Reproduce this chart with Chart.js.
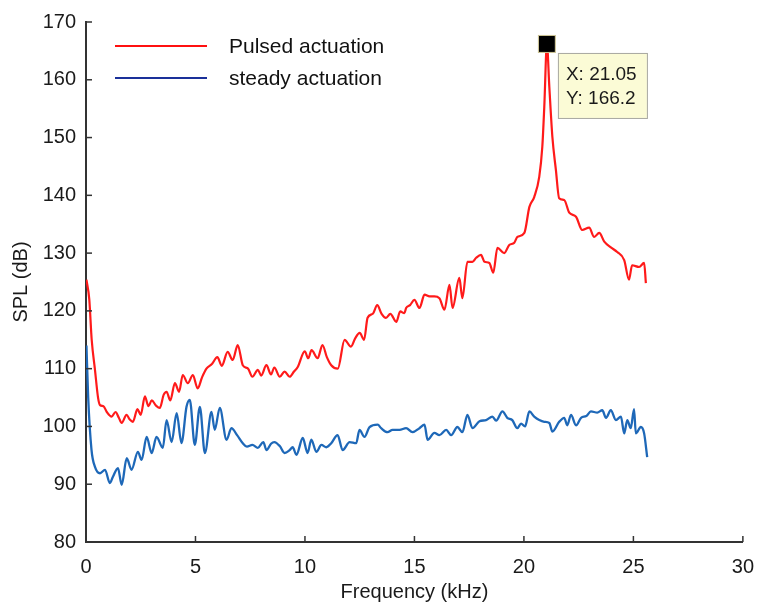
<!DOCTYPE html>
<html><head><meta charset="utf-8">
<script src="https://cdn.jsdelivr.net/npm/chart.js@4"></script>
<style>html,body{margin:0;padding:0;background:#fff}#wrap{width:759px;height:604px}</style>
</head><body><div id="wrap"><canvas id="c" width="759" height="604"></canvas></div>
<script>
const seriesNames = ['Pulsed actuation', 'steady actuation'];
const xTicks = [0, 5, 10, 15, 20, 25, 30];
const yTicks = [80, 90, 100, 110, 120, 130, 140, 150, 160, 170];
const peak = { x: 21.05, y: 166.2 };

const pulsedFreq = [0.02,0.15,0.26,0.41,0.55,0.64,0.8,0.95,1.17,1.35,1.5,1.63,1.85,2.0,2.14,2.35,2.5,2.69,2.85,3.0,3.2,3.37,3.55,3.68,3.85,4.06,4.25,4.42,4.65,4.88,5.1,5.3,5.5,5.75,6.0,6.2,6.47,6.7,6.93,7.16,7.4,7.6,7.85,8.0,8.24,8.45,8.6,8.85,9.07,9.3,9.5,9.67,9.99,10.15,10.3,10.58,10.8,11.0,11.2,11.5,11.81,12.1,12.3,12.5,12.7,12.86,13.1,13.3,13.5,13.7,13.9,14.17,14.35,14.54,14.62,14.8,15.0,15.23,15.46,15.69,15.91,16.14,16.37,16.6,16.74,17.05,17.19,17.42,17.65,17.82,18.04,18.2,18.42,18.6,18.79,19.1,19.33,19.56,19.7,20.02,20.25,20.47,20.7,20.84,20.93,21.05,21.16,21.3,21.46,21.61,21.84,22.07,22.38,22.66,22.98,23.21,23.44,23.67,23.97,24.26,24.58,24.8,24.94,25.26,25.49,25.57];
const pulsedSPL = [125.4,122,115,109.8,105,103.7,103.5,102.5,101.7,102.5,101.5,100.6,102,101.2,100.8,103,102,105.2,103.5,104.5,103.6,103.2,105.5,106,104.5,107.5,106,108.9,107.5,108.9,106.6,108.5,110,110.8,112,110.5,112.9,111.5,114.1,110.6,110,108.6,109.8,108.8,110.6,109,110.2,108.6,109.5,108.6,109.5,110.3,113,111.8,113.2,111.8,114.1,112,110.6,110,115,113.8,115.3,116.2,115,118.8,119.5,121,119.5,118.8,119.5,118.1,119.9,119.6,120.5,121,121.9,120.5,122.8,122.5,122.5,122.2,120.2,124.5,120.5,125.7,122.2,128.5,128.5,129.2,129.7,128.5,128.3,126.6,130.9,130,131.4,131.8,132.8,133.5,138,139.7,143.2,148.4,155.3,166.2,158.8,150.1,144.4,139.5,139.2,137,136.3,134,134.4,132.8,133.5,132,131,130.2,128.8,125.4,127.9,127.6,128.3,124.8];

const steadyFreq = [0.02,0.1,0.25,0.41,0.64,0.87,1.09,1.23,1.46,1.63,1.86,2.08,2.37,2.54,2.77,3.0,3.22,3.51,3.68,3.91,4.14,4.36,4.59,4.74,4.97,5.2,5.43,5.73,5.88,6.11,6.42,6.64,6.9,7.16,7.35,7.6,7.85,8.1,8.24,8.45,8.6,8.85,9.07,9.3,9.44,9.61,9.9,10.12,10.29,10.52,10.75,10.98,11.2,11.49,11.72,12.04,12.34,12.49,12.72,12.95,13.32,13.48,13.77,14.0,14.32,14.62,14.91,15.23,15.46,15.6,15.91,16.14,16.45,16.68,16.96,17.19,17.42,17.65,17.97,18.27,18.56,18.73,19.02,19.24,19.47,19.7,19.87,20.05,20.25,20.47,20.7,20.93,21.16,21.3,21.61,21.84,21.98,22.15,22.38,22.61,22.85,23.06,23.35,23.58,23.75,23.97,24.2,24.43,24.58,24.72,24.88,25.03,25.11,25.34,25.49,25.63];
const steadySPL = [114,105,96,93,91.9,92.5,90.2,91.3,92.8,89.9,94.5,92.5,95.6,94.2,98.2,95.4,98.2,96.3,101.1,97.3,102.3,97.1,103.4,104.6,96.8,103.4,95.4,102.5,99.4,103.2,97.7,99.7,98.5,97.1,96.5,96.8,96.3,97.3,95.9,97,97.3,96.6,95.4,95.9,96.4,95.1,98,95.4,97.7,95.6,96.8,96.4,97.1,98.5,95.9,97.3,97.1,99.4,98.2,99.9,100.3,99.7,99,99.4,99.4,99.7,99,99.7,100.3,97.7,98.9,98.5,99.4,98.5,99.9,99,102,99.7,100.9,101.1,101.7,101,102.6,101.5,101.1,99.7,100.5,100,102.6,101.7,101.1,100.8,100.6,99.1,100.8,101.5,100.2,102,100.2,101.5,101.8,102.6,102.4,102.8,101.5,102.8,101.1,101.7,98.8,101.1,99.7,103,98.8,99.9,98.8,94.7];

const FONT = 'Liberation Sans, Arial, Helvetica, sans-serif';
const toPts = (xs, ys) => xs.map((x, i) => ({ x: x, y: ys[i] }));

const tickPlugin = {
  id: 'inTicks',
  afterDraw(chart) {
    const ctx = chart.ctx, xs = chart.scales.x, ys = chart.scales.y, a = chart.chartArea;
    ctx.save();
    ctx.strokeStyle = '#333'; ctx.lineWidth = 1.5;
    xTicks.forEach(v => { const p = xs.getPixelForValue(v); ctx.beginPath(); ctx.moveTo(p, a.bottom); ctx.lineTo(p, a.bottom - 6); ctx.stroke(); });
    yTicks.forEach(v => { const p = ys.getPixelForValue(v); ctx.beginPath(); ctx.moveTo(a.left, p); ctx.lineTo(a.left + 6, p); ctx.stroke(); });
    ctx.restore();
  }
};

const legendPlugin = {
  id: 'inLegend',
  afterDraw(chart) {
    const ctx = chart.ctx, a = chart.chartArea;
    const cols = ['#ff1010', '#1a3099'];
    ctx.save();
    ctx.font = '21px ' + FONT; ctx.textBaseline = 'middle'; ctx.fillStyle = '#111';
    seriesNames.forEach((n, i) => {
      const y = a.top + 24 + i * 32;
      ctx.strokeStyle = cols[i]; ctx.lineWidth = 2.2;
      ctx.beginPath(); ctx.moveTo(a.left + 29, y); ctx.lineTo(a.left + 121, y); ctx.stroke();
      ctx.fillText(n, a.left + 143, y + 1);
    });
    ctx.restore();
  }
};

const peakPlugin = {
  id: 'peakTip',
  afterDatasetsDraw(chart) {
    const ctx = chart.ctx;
    const px = chart.scales.x.getPixelForValue(peak.x), py = chart.scales.y.getPixelForValue(peak.y);
    ctx.save();
    ctx.fillStyle = '#000'; ctx.fillRect(px - 8, py - 8, 16, 16);
    ctx.strokeStyle = '#c8c090'; ctx.lineWidth = 1; ctx.strokeRect(px - 8.5, py - 8.5, 17, 17);
    const bx = px + 11, by = py + 9, bw = 89, bh = 65;
    ctx.fillStyle = '#fbfbd6'; ctx.fillRect(bx, by, bw, bh);
    ctx.strokeStyle = '#a8a8a0'; ctx.strokeRect(bx + 0.5, by + 0.5, bw, bh);
    ctx.fillStyle = '#1a1a1a'; ctx.font = '19px ' + FONT; ctx.textBaseline = 'middle';
    ctx.fillText('X: ' + peak.x.toFixed(2), bx + 8, by + 22);
    ctx.fillText('Y: ' + peak.y.toFixed(1), bx + 8, by + 46);
    ctx.restore();
  }
};

new Chart(document.getElementById('c'), {
  type: 'scatter',
  data: {
    datasets: [
      { label: seriesNames[0], data: toPts(pulsedFreq, pulsedSPL), showLine: true, borderColor: '#ff1a1a', borderWidth: 2.2, pointRadius: 0, cubicInterpolationMode: 'monotone' },
      { label: seriesNames[1], data: toPts(steadyFreq, steadySPL), showLine: true, borderColor: '#1e68b8', borderWidth: 2.3, pointRadius: 0, cubicInterpolationMode: 'monotone' }
    ]
  },
  options: {
    responsive: false, animation: false, devicePixelRatio: 1,
    layout: { padding: { top: 22, right: 15, left: 0, bottom: 0 } },
    plugins: { legend: { display: false }, tooltip: { enabled: false } },
    scales: {
      x: {
        type: 'linear', min: 0, max: 30,
        afterBuildTicks: s => { s.ticks = xTicks.map(v => ({ value: v })); },
        afterFit: s => { s.height = 62; },
        grid: { display: false },
        border: { display: true, color: '#333', width: 2 },
        ticks: { font: { size: 20, family: FONT }, color: '#1a1a1a', padding: 5, maxRotation: 0 },
        title: { display: true, text: 'Frequency (kHz)', font: { size: 20, family: FONT }, color: '#1a1a1a', padding: { top: 0, bottom: 0 } }
      },
      y: {
        min: 80, max: 170,
        afterBuildTicks: s => { s.ticks = yTicks.map(v => ({ value: v })); },
        afterFit: s => { s.width = 86; },
        grid: { display: false },
        border: { display: true, color: '#333', width: 2 },
        ticks: { font: { size: 20, family: FONT }, color: '#1a1a1a', padding: 2 },
        title: { display: true, text: 'SPL (dB)', font: { size: 20, family: FONT }, color: '#1a1a1a', padding: { top: 9, bottom: 0 } }
      }
    }
  },
  plugins: [tickPlugin, legendPlugin, peakPlugin]
});
</script></body></html>
